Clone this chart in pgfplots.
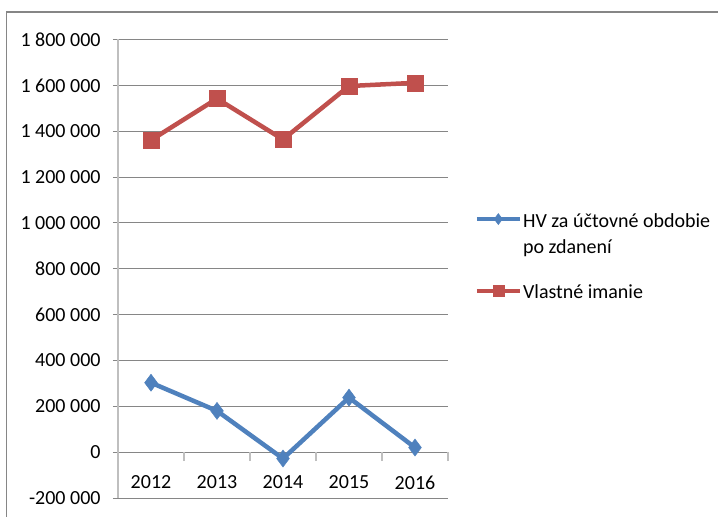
\documentclass[border=0pt]{standalone}
\usepackage{pgfplots}
\pgfplotsset{compat=1.18}
\usepackage{fontspec}
\setmainfont{Carlito}
\definecolor{serblue}{HTML}{4F81BD}
\definecolor{serred}{HTML}{C0504D}
\definecolor{gridc}{HTML}{868686}
\definecolor{axc}{HTML}{BFBFBF}
\begin{document}
\fontsize{20bp}{26bp}\selectfont
\begin{tikzpicture}
\useasboundingbox (-118bp,-19bp) rectangle (600bp,498bp);
\draw[gridc, line width=1.5bp] (-111.5bp,-19bp) -- (-111.5bp,486bp) -- (600bp,486bp);
\begin{axis}[
  scale only axis, width=330bp, height=458.5bp,
  xmin=-0.5, xmax=4.5, ymin=-200000, ymax=1800000,
  axis x line*=middle, axis y line*=left,
  hide obscured x ticks=false, hide obscured y ticks=false,
  x axis line style={draw=none},
  y axis line style={-, draw=axc, line width=1.5bp},
  xmajorgrids=false, xminorgrids=false,
  tick align=outside,
  ytick pos=left,
  scaled y ticks=false,
  xtick={-0.5,0.5,1.5,2.5,3.5,4.5},
  x tick label as interval,
  xticklabels={2012,2013,2014,2015,2016},
  xtick style={draw=axc, line width=1.2bp, /pgfplots/major tick length=9bp},
  xticklabel style={anchor=north, inner sep=0pt, yshift=-19bp},
  ytick={-200000,0,200000,400000,600000,800000,1000000,1200000,1400000,1600000,1800000},
  yticklabels={-200 000,0,200 000,400 000,600 000,800 000,1 000 000,1 200 000,1 400 000,1 600 000,1 800 000},
  ytick style={draw=gridc, line width=1bp, /pgfplots/major tick length=5bp},
  yticklabel style={anchor=east, inner sep=0pt, xshift=-13bp},
  ymajorgrids,
  grid style={draw=gridc, line width=1bp},
  clip=false,
  legend cell align=left,
  legend style={draw=none, fill=none, at={(1.080,0.631)}, anchor=north west,
    inner sep=0pt, row sep=55bp, column sep=1bp,
    nodes={inner sep=0pt}, cells={anchor=base west}},
  legend image code/.code={\draw[#1, mark size=5.5bp, mark repeat=2, mark phase=2] plot coordinates {(0bp,8bp) (21.5bp,8bp) (43bp,8bp)};},
]
\addplot[serblue, line width=4.5bp, mark=diamond*, mark size=8.5bp, mark options={line width=0.5bp}]
  coordinates {(0,303000)(1,180000)(2,-28000)(3,238000)(4,20000)};
\addlegendentry{\begin{tabular}[t]{@{}l@{}}HV za účtovné obdobie\\po zdanení\end{tabular}}
\addplot[serred, line width=4.5bp, mark=square*, mark size=8bp, mark options={line width=0.5bp}]
  coordinates {(0,1361000)(1,1542000)(2,1364000)(3,1597000)(4,1611000)};
\addlegendentry{Vlastné imanie}
\end{axis}
\end{tikzpicture}
\end{document}
